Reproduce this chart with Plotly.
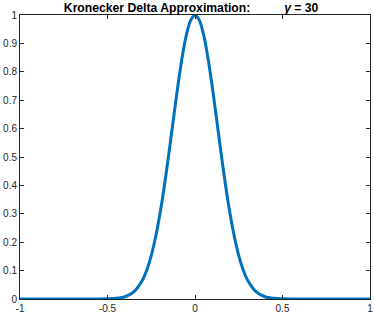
import plotly.graph_objects as go

# Values (curve samples)
x_vals = [-1.0, -0.9, -0.8, -0.7, -0.6, -0.55, -0.5, -0.45, -0.4, -0.35, -0.3, -0.275, -0.25, -0.225, -0.2,
          -0.175, -0.15, -0.125, -0.1, -0.075, -0.05, -0.025,
          0.0, 0.025, 0.05, 0.075, 0.1, 0.125, 0.15, 0.175, 0.2, 0.225, 0.25, 0.275, 0.3, 0.35, 0.4, 0.45,
          0.5, 0.55, 0.6, 0.7, 0.8, 0.9, 1.0]
y_vals = [0.0, 0.0, 0.0, 0.0, 0.0, 0.0001, 0.0006, 0.0023, 0.008, 0.025, 0.067, 0.103, 0.153, 0.219, 0.301,
          0.399, 0.509, 0.626, 0.741, 0.845, 0.928, 0.981,
          1.0, 0.981, 0.928, 0.845, 0.741, 0.626, 0.509, 0.399, 0.301, 0.219, 0.153, 0.103, 0.067, 0.025, 0.008, 0.0023,
          0.0006, 0.0001, 0.0, 0.0, 0.0, 0.0, 0.0]
x_ticks = [-1, -0.5, 0, 0.5, 1]
x_tick_labels = ["-1", "-0.5", "0", "0.5", "1"]
y_ticks = [0, 0.1, 0.2, 0.3, 0.4, 0.5, 0.6, 0.7, 0.8, 0.9, 1]
y_tick_labels = ["0", "0.1", "0.2", "0.3", "0.4", "0.5", "0.6", "0.7", "0.8", "0.9", "1"]
title_text = "<b>Kronecker Delta Approximation:          <i>γ</i> = 30</b>"

fig = go.Figure()
fig.add_trace(go.Scatter(x=x_vals, y=y_vals, mode="lines",
                         line=dict(color="#0072BD", width=3, shape="spline", smoothing=0.8),
                         hoverinfo="skip", cliponaxis=True))

axis_common = dict(showgrid=False, zeroline=False, showline=True, linecolor="#262626", linewidth=1,
                   mirror="ticks", ticks="inside", ticklen=4, tickcolor="#262626", automargin=False,
                   tickfont=dict(family="Liberation Sans, Arial, sans-serif", size=10, color="#262626"))

fig.update_layout(
    width=374, height=315,
    margin=dict(l=20, r=4, t=15, b=16),
    paper_bgcolor="white", plot_bgcolor="white",
    showlegend=False,
    title=dict(text=title_text, x=0.511, xanchor="center", y=0.99, yanchor="top",
               font=dict(family="Liberation Sans, Arial, sans-serif", size=12.2, color="black")),
    xaxis=dict(range=[-1, 1], tickvals=x_ticks, ticktext=x_tick_labels, **axis_common),
    yaxis=dict(range=[0, 1], tickvals=y_ticks, ticktext=y_tick_labels, **axis_common),
)

fig.write_html("out.html", config={"displayModeBar": False},
               post_script="document.body.style.margin='0px';")
